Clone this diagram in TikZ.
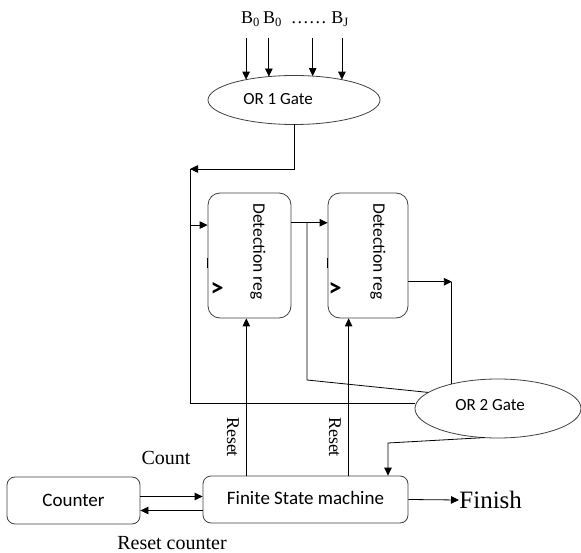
\documentclass[tikz,border=0pt]{standalone}
\usepackage{fontspec}
\setmainfont{Liberation Serif}
\newfontfamily\boxfont{Carlito}
\usetikzlibrary{arrows.meta,shapes.geometric}

\begin{document}
\begin{tikzpicture}[x=1pt,y=-1pt,line width=0.8pt,
    >={Triangle[length=8pt,width=7.5pt]},
    blk/.style={draw=black!75,rounded corners=8pt,inner sep=0pt,
      font=\boxfont\fontsize{19}{22}\selectfont},
    reg/.style={draw=black!75,rounded corners=12pt,inner sep=0pt,
      minimum height=125pt},
    gate/.style={draw=black!75,ellipse,inner sep=0pt,outer sep=0pt},
    gatetxt/.style={inner sep=0pt,font=\boxfont\fontsize{17}{20}\selectfont},
    regtxt/.style={inner sep=0pt,rotate=-90,
      font=\boxfont\fontsize{17.5}{20}\selectfont},
    clk/.style={inner sep=0pt,font=\boxfont\bfseries\fontsize{26}{28}\selectfont},
    lbl/.style={inner sep=0pt,font=\fontsize{20}{24}\selectfont}]
  \useasboundingbox (0,0) rectangle (581,553);

  % blocks
  \draw
    (294,100) node[gate,minimum width=172pt,minimum height=49pt] (or1){}
    (278,99) node[gatetxt] (or1txt){OR 1 Gate}
    (498,408.5) node[gate,minimum width=166pt,minimum height=59pt] (or2){}
    (490,405) node[gatetxt] (or2txt){OR 2 Gate}
    (249.5,255.5) node[reg,minimum width=83pt] (det1){}
    (368,255.5) node[reg,minimum width=80pt] (det2){}
    (258,251.5) node[regtxt] (det1txt){Detection reg}
    (378,251.5) node[regtxt] (det2txt){Detection reg}
    (217,289) node[clk] (clk1){>}
    (335,289) node[clk] (clk2){>}
    (73.5,500.5) node[blk,minimum width=133pt,minimum height=47pt] (cnt){Counter}
    (305.5,499.5) node[blk,minimum width=205pt,minimum height=47pt] (fsm){\raisebox{3pt}{Finite State machine}};

  % labels
  \draw
    (295,19) node[lbl,font=\fontsize{18}{20}\selectfont] (ins)
      {B\textsubscript{0}\,B\textsubscript{0} \ \ldots\ldots\ B\textsubscript{J}}
    (166,458) node[lbl] (count){Count}
    (172,543) node[lbl] (rstcnt){Reset counter}
    (233,437) node[lbl,rotate=-90,font=\fontsize{18}{20}\selectfont] (rst1){Reset}
    (335,437) node[lbl,rotate=-90,font=\fontsize{18}{20}\selectfont] (rst2){Reset}
    (459,500) node[lbl,anchor=west,font=\fontsize{25}{28}\selectfont] (fin){Finish};

  % bends of the wires
  \coordinate (top) at (0,38);
  \coordinate (fb) at (190,169);
  \coordinate (fbl) at (190,403);
  \coordinate (br) at (307,0);
  \coordinate (brl) at (307,380);
  \coordinate (fk) at (388,443);

  \begin{scope}[->]
    \foreach \a in {157.3,137,52,23}
      \draw (or1.\a |- top) -- (or1.\a);
    \draw (or1.south) |- (fb);
    \draw (det1.144 -| fb) -- (det1.144);
    \draw (det1.38) -- (det1.38 -| det2.west);
    \draw (det2.-33) -- (det2.-33 -| or2.152);
    \draw (or2.-115) -- (fk) -- (fk |- fsm.north);
    \draw (fsm.158) -- (fsm.158 |- det1.south);
    \draw (fsm.29) -- (fsm.29 |- det2.south);
    \draw ([yshift=4pt]cnt.east) -- ([yshift=4pt]cnt.east -| fsm.west);
    \draw ([yshift=-11pt]fsm.west) -- ([yshift=-11pt]fsm.west -| cnt.east);
    \draw (fsm.east) -- (fin.west);
  \end{scope}
  \begin{scope}[-]
    \draw (fb) -- (fbl) -- (fbl -| or2.west);
    \draw (br |- det1.38) -- (brl) -- (or2.167);
    \draw (det2.-33 -| or2.152) -- (or2.152);
    % clock marks on the register inputs
    \draw[line width=1.4pt] ([yshift=-3pt]det1.west) -- ([yshift=-13pt]det1.west);
    \draw[line width=1.4pt] ([yshift=-3pt]det2.west) -- ([yshift=-13pt]det2.west);
  \end{scope}
\end{tikzpicture}
\end{document}
